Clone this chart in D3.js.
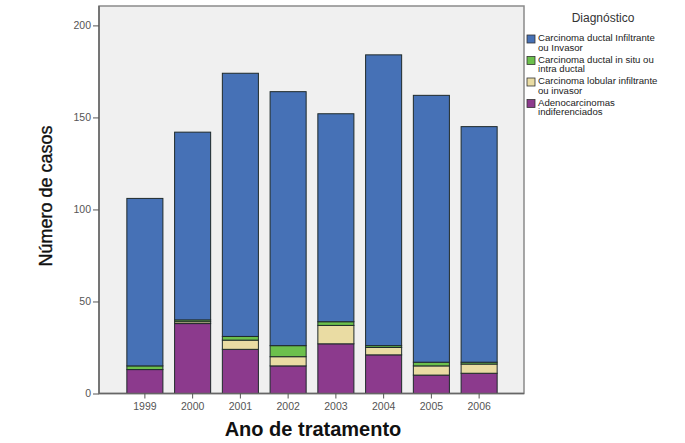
<!DOCTYPE html>
<html>
<head>
<meta charset="utf-8">
<script src="https://cdn.jsdelivr.net/npm/d3@7"></script>
<style>
  body { margin: 0; background: #fff; }
  svg { display: block; font-family: "Liberation Sans", Arial, sans-serif; }
</style>
</head>
<body>
<div id="chart"></div>
<script>
// Número de casos por ano e diagnóstico

const years = ['1999', '2000', '2001', '2002', '2003', '2004', '2005', '2006'];

// series, bottom to top of each bar
const adenocarcinomas = [13, 38, 24, 15, 27, 21, 10, 11];
const lobularInfiltrante = [0, 1, 5, 5, 10, 4, 5, 5];
const ductalInSitu = [2, 1, 2, 6, 2, 1, 2, 1];
const ductalInfiltrante = [91, 102, 143, 138, 113, 158, 145, 128];

const yTicks = [0, 50, 100, 150, 200];

const seriesKeys = ['adeno', 'lobular', 'insitu', 'ductal'];
const colors = {
    ductal: '#4671b6',
    insitu: '#6cc04c',
    lobular: '#eadca3',
    adeno: '#8c3a8d'
};
// legend order (top to bottom)
const legendItems = [
    { key: 'ductal', lines: ['Carcinoma ductal Infiltrante', 'ou Invasor'] },
    { key: 'insitu', lines: ['Carcinoma ductal in situ ou', 'intra ductal'] },
    { key: 'lobular', lines: ['Carcinoma lobular infiltrante', 'ou invasor'] },
    { key: 'adeno', lines: ['Adenocarcinomas', 'indiferenciados'] }
];

const width = 685;
const height = 443;
const plot = { left: 99, right: 524, top: 6, bottom: 393.5 };

const rows = years.map((y, i) => ({
    year: y,
    adeno: adenocarcinomas[i],
    lobular: lobularInfiltrante[i],
    insitu: ductalInSitu[i],
    ductal: ductalInfiltrante[i]
}));

const svg = d3.select('#chart')
    .append('svg')
    .attr('width', width)
    .attr('height', height);

// plot background
svg.append('rect')
    .attr('x', plot.left)
    .attr('y', plot.top)
    .attr('width', plot.right - plot.left)
    .attr('height', plot.bottom - plot.top)
    .style('fill', '#f0f0f0')
    .style('stroke', '#8a8a8a')
    .style('stroke-width', 1.5);

const x = d3.scaleBand()
    .domain(years)
    .range([121, 503])
    .paddingInner(0.245)
    .paddingOuter(0.1225);

const y = d3.scaleLinear()
    .domain([0, 210])
    .range([plot.bottom, plot.top + 1]);

const stacked = d3.stack().keys(seriesKeys)(rows);

svg.append('g')
    .selectAll('g')
    .data(stacked)
    .enter().append('g')
    .style('fill', d => colors[d.key])
    .selectAll('rect')
    .data(d => d)
    .enter().append('rect')
    .attr('x', d => x(d.data.year))
    .attr('width', x.bandwidth())
    .attr('y', d => y(d[1]))
    .attr('height', d => y(d[0]) - y(d[1]))
    .style('stroke', '#1f2a2a')
    .style('stroke-width', 1);

// axes
const yAxis = svg.append('g')
    .attr('transform', `translate(${plot.left},0)`)
    .call(d3.axisLeft(y).tickValues(yTicks).tickSize(6).tickSizeOuter(0).tickPadding(2));

const xAxis = svg.append('g')
    .attr('transform', `translate(0,${plot.bottom})`)
    .call(d3.axisBottom(x).tickSize(5).tickSizeOuter(0).tickPadding(4));

xAxis.select('.domain').attr('d', `M${plot.left},0H${plot.right}`);
yAxis.select('.domain').attr('d', `M0,${plot.top}V${plot.bottom}`);

[yAxis, xAxis].forEach(g => {
    g.select('.domain').style('stroke', '#666').style('stroke-width', 1.5);
    g.selectAll('.tick line').style('stroke', '#555');
    g.selectAll('.tick text')
        .style('font-size', '10.5px')
        .style('fill', '#555')
        .style('font-family', '"Liberation Sans", Arial, sans-serif');
});

// axis titles
svg.append('text')
    .attr('transform', 'translate(52,196) rotate(-90)')
    .attr('text-anchor', 'middle')
    .style('font-size', '18px')
    .style('fill', '#111')
    .style('stroke', '#111')
    .style('stroke-width', 0.35)
    .text('Número de casos');

svg.append('text')
    .attr('x', 313)
    .attr('y', 436)
    .attr('text-anchor', 'middle')
    .style('font-size', '20px')
    .style('font-weight', 'bold')
    .style('fill', '#111')
    .text('Ano de tratamento');

// legend
const legend = svg.append('g');

legend.append('text')
    .attr('x', 603)
    .attr('y', 22)
    .attr('text-anchor', 'middle')
    .style('font-size', '12px')
    .style('fill', '#333')
    .text('Diagnóstico');

const item = legend.selectAll('g.item')
    .data(legendItems)
    .enter().append('g')
    .attr('class', 'item')
    .attr('transform', (d, i) => `translate(0,${i * 21.5})`);

item.append('rect')
    .attr('x', 527)
    .attr('y', 35)
    .attr('width', 8)
    .attr('height', 8)
    .style('fill', d => colors[d.key])
    .style('stroke', '#333')
    .style('stroke-width', 0.8);

item.selectAll('text')
    .data(d => d.lines)
    .enter().append('text')
    .attr('x', 538)
    .attr('y', (d, j) => 41 + j * 9.5)
    .style('font-size', '9.6px')
    .style('fill', '#222')
    .text(d => d);
</script>
</body>
</html>
